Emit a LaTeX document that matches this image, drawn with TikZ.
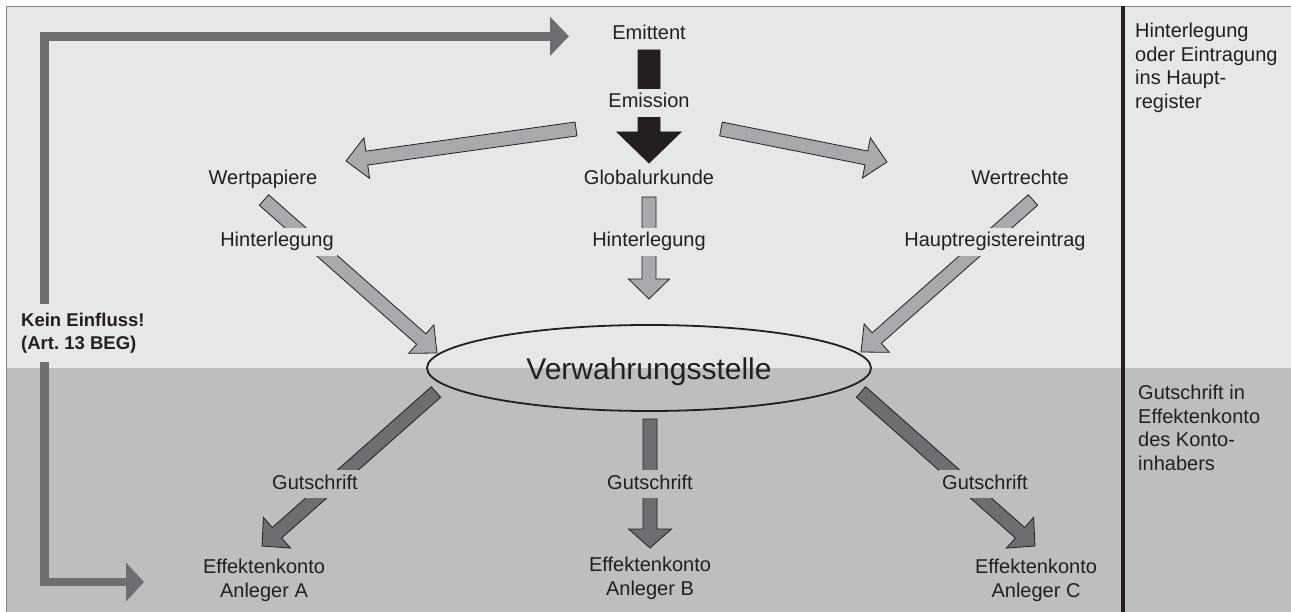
\documentclass[tikz,border=0pt]{standalone}
\usepackage{fontspec}
\setmainfont{Liberation Sans}
\usetikzlibrary{arrows.meta, calc, shapes.geometric}

\definecolor{ink}{HTML}{231F20}
\definecolor{bandLight}{HTML}{E6E7E8}
\definecolor{bandDark}{HTML}{BCBEC0}
\definecolor{arrowLight}{HTML}{A7A9AC}
\definecolor{arrowDark}{HTML}{6D6E71}
\definecolor{frameGray}{HTML}{808285}

\pgfdeclarelayer{bands}
\pgfdeclarelayer{arrows}
\pgfsetlayers{bands,arrows,main}

% block arrow: [style]{from}{to}{half shaft}{half head}{head length}
\newcommand{\fatarrow}[6][]{%
  \coordinate (fa-a) at (#2);
  \coordinate (fa-b) at (#3);
  \coordinate (fa-c) at ($(fa-b)!#6!(fa-a)$);
  \draw[#1] ($(fa-a)!#4!90:(fa-b)$) -- ($(fa-c)!#4!90:(fa-b)$)
    -- ($(fa-c)!#5!90:(fa-b)$) -- (fa-b) -- ($(fa-c)!#5!-90:(fa-b)$)
    -- ($(fa-c)!#4!-90:(fa-b)$) -- ($(fa-a)!#4!-90:(fa-b)$) -- cycle;}

\tikzset{
  lbl/.style={font=\fontsize{20}{24}\selectfont, text=ink, text height=14pt,
    text depth=4pt, inner xsep=3pt, inner ysep=5pt},
  maskL/.style={lbl, fill=bandLight},
  maskD/.style={lbl, fill=bandDark},
  eff/.style={font=\fontsize{20}{24}\selectfont, text=ink, align=center, inner sep=0pt},
  side/.style={font=\fontsize{20}{23.5}\selectfont, text=ink, align=left, inner sep=0pt},
  grayarrow/.style={fill=arrowLight, draw=ink, line width=0.8pt},
  darkarrow/.style={fill=arrowDark, draw=ink, line width=0.8pt},
  blackarrow/.style={fill=ink, draw=ink, line width=0.8pt},
  influence/.style={draw=arrowDark, line width=8.5pt,
    {Triangle[length=19pt,width=38pt]}-{Triangle[length=18pt,width=38pt]}}
}

\begin{document}
\begin{tikzpicture}[x=1pt, y=-1pt]
  \useasboundingbox (0,0) rectangle (1291,612);

  % bands and frame
  \begin{pgfonlayer}{bands}
    \fill[bandLight] (6.5,6.5) rectangle (1291,368);
    \fill[bandDark] (6.5,368) rectangle (1291,612);
    \draw[frameGray, line width=1.3pt] (6.5,612) -- (6.5,6.5) -- (1291,6.5);
    \draw[ink, line width=3.6pt] (1123,6.5) -- (1123,612);
  \end{pgfonlayer}

  % texts
  \node[lbl] (emit) at (649,35) {Emittent};
  \node[maskL] (emis) at (649,103) {Emission};
  \node[lbl] (glob) at (649,180) {Globalurkunde};
  \node[lbl] (wp) at (263,180) {Wertpapiere};
  \node[lbl] (wr) at (1020,180) {Wertrechte};
  \node[maskL] (hlL) at (277,242) {Hinterlegung};
  \node[maskL] (hlM) at (649,242) {Hinterlegung};
  \node[maskL] (hre) at (995,242) {Hauptregistereintrag};
  \node[ellipse, draw=ink, line width=1.8pt, minimum width=444pt, minimum height=86pt,
    inner sep=0pt, text=ink, font=\fontsize{30}{36}\selectfont,
    text height=22pt, text depth=0pt] (verw) at (649,368) {Verwahrungsstelle};
  \node[maskD] (gsL) at (315,484) {Gutschrift};
  \node[maskD] (gsM) at (650,484) {Gutschrift};
  \node[maskD] (gsR) at (985,484) {Gutschrift};
  \node[eff, anchor=north] (effA) at (264,558.5) {Effektenkonto\\Anleger A};
  \node[eff, anchor=north] (effB) at (650,557) {Effektenkonto\\Anleger B};
  \node[eff, anchor=north] (effC) at (1036,558.5) {Effektenkonto\\Anleger C};
  \node[font=\bfseries\fontsize{18.5}{23}\selectfont, text=ink, align=left,
    inner sep=9pt, fill=bandLight, anchor=north west] (kein) at (12,303.5)
    {Kein Einfluss!\\(Art.~13 BEG)};
  \node[side, anchor=north west] (sideTop) at (1135,23)
    {Hinterlegung\\oder Eintragung\\ins Haupt-\\register};
  \node[side, anchor=north west] (sideBot) at (1138,385)
    {Gutschrift in\\Effektenkonto\\des Konto-\\inhabers};

  % arrows
  \begin{pgfonlayer}{arrows}
    \coordinate (inflTop) at (569,36.3);
    \coordinate (inflTL) at (44.5,36.3);
    \coordinate (inflBL) at (44.5,582);
    \coordinate (inflBot) at (144,582);
    \draw[influence] (inflTop) -- (inflTL) -- (inflBL) -- (inflBot);

    \fatarrow[blackarrow]{$(emit)+(0,15)$}{$(glob)+(0,-17)$}{11pt}{32pt}{31pt}
    \fatarrow[grayarrow]{$(emis)+(-73,26)$}{$(wp)+(83,-19)$}{7pt}{20.5pt}{21pt}
    \fatarrow[grayarrow]{$(emis)+(72,26)$}{$(wr)+(-133,-18)$}{7pt}{20.5pt}{21pt}
    \fatarrow[grayarrow]{$(wp)+(1,20)$}{$(verw)+(-212,-15)$}{7pt}{19pt}{21pt}
    \fatarrow[grayarrow]{$(glob)+(0,17)$}{$(verw)+(0,-69)$}{7pt}{20.5pt}{20pt}
    \fatarrow[grayarrow]{$(wr)+(13,20)$}{$(verw)+(212,-16)$}{7pt}{19pt}{21pt}
    \fatarrow[darkarrow]{$(verw)+(-213,24)$}{$(effA.north)+(-2,-12.5)$}{7pt}{20.5pt}{20pt}
    \fatarrow[darkarrow]{$(verw)+(1,51)$}{$(effB.north)+(0,-9)$}{7pt}{21.5pt}{19pt}
    \fatarrow[darkarrow]{$(verw)+(212,24)$}{$(effC.north)+(-1,-12.5)$}{7pt}{20.5pt}{20pt}
  \end{pgfonlayer}
\end{tikzpicture}
\end{document}
